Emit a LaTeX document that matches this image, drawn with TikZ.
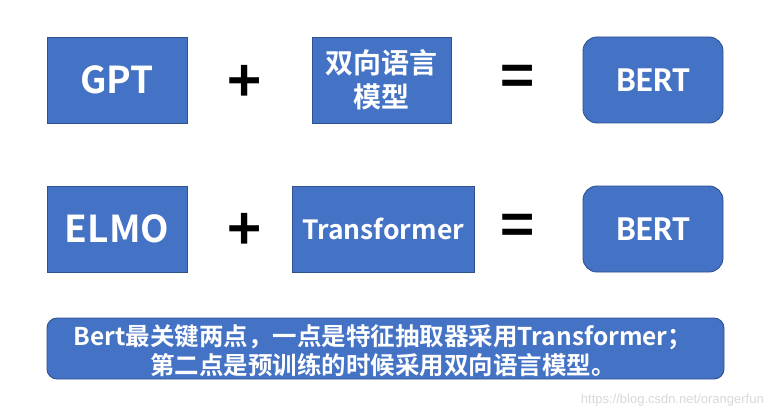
\documentclass[tikz,border=0pt]{standalone}
\usepackage{fontspec}
\newfontfamily\cjk{Noto Sans CJK SC Bold}
\newfontfamily\calib{Carlito}
\newfontfamily\wm{Liberation Sans}
\definecolor{boxfill}{HTML}{4472C4}
\definecolor{boxline}{HTML}{2F528F}
\definecolor{wmgray}{HTML}{D8D8D8}
\begin{document}
\begin{tikzpicture}[x=1pt,y=-1pt,
  blk/.style={draw=boxline,line width=0.9pt,fill=boxfill,text=white,
    inner sep=0pt,outer sep=0pt,align=center},
  sq/.style={blk,rectangle},
  rnd/.style={blk,rounded corners=14pt},
  op/.style={inner sep=0pt,font=\cjk\fontsize{58}{58}\selectfont}]
\useasboundingbox (0,0) rectangle (771,417);
\node[sq,minimum width=140pt,minimum height=86pt,font=\cjk\fontsize{37}{37}\selectfont] (gpt) at (117,80) {GPT};
\node[sq,minimum width=139pt,minimum height=86pt,font=\cjk\fontsize{28}{34}\selectfont] (bi) at (381.5,80) {双向语言\\模型};
\node[rnd,minimum width=140pt,minimum height=86pt,font=\calib\bfseries\fontsize{35}{35}\selectfont] (bert1) at (653,80) {BERT};
\node[op] (plus1) at (245,84) {+};
\node[op] (eq1) at (518,81) {=};
\node[sq,minimum width=140pt,minimum height=86pt,font=\cjk\fontsize{37}{37}\selectfont] (elmo) at (117,229) {ELMO};
\node[sq,minimum width=182pt,minimum height=86pt,font=\cjk\fontsize{26.5}{26.5}\selectfont] (tf) at (383,229) {Transformer};
\node[rnd,minimum width=140pt,minimum height=86pt,font=\calib\bfseries\fontsize{35}{35}\selectfont] (bert2) at (653,229) {BERT};
\node[op] (plus2) at (245,232) {+};
\node[op] (eq2) at (518,230) {=};
\node[blk,rounded corners=10pt,minimum width=677pt,minimum height=61pt,
  font=\cjk\fontsize{24.5}{29}\selectfont] (note) at (385.5,348.5)
  {};
\node[text=white,align=center,inner sep=0pt,font=\cjk\fontsize{24.5}{29}\selectfont] (notetext) at (383,351)
  {Bert最关键两点，一点是特征抽取器采用Transformer；\\第二点是预训练的时候采用双向语言模型。};
\node[anchor=east,text=wmgray,inner sep=0pt,font=\wm\fontsize{13}{13}\selectfont] (wmark) at (764,400) {https://blog.csdn.net/orangerfun};
\end{tikzpicture}
\end{document}
